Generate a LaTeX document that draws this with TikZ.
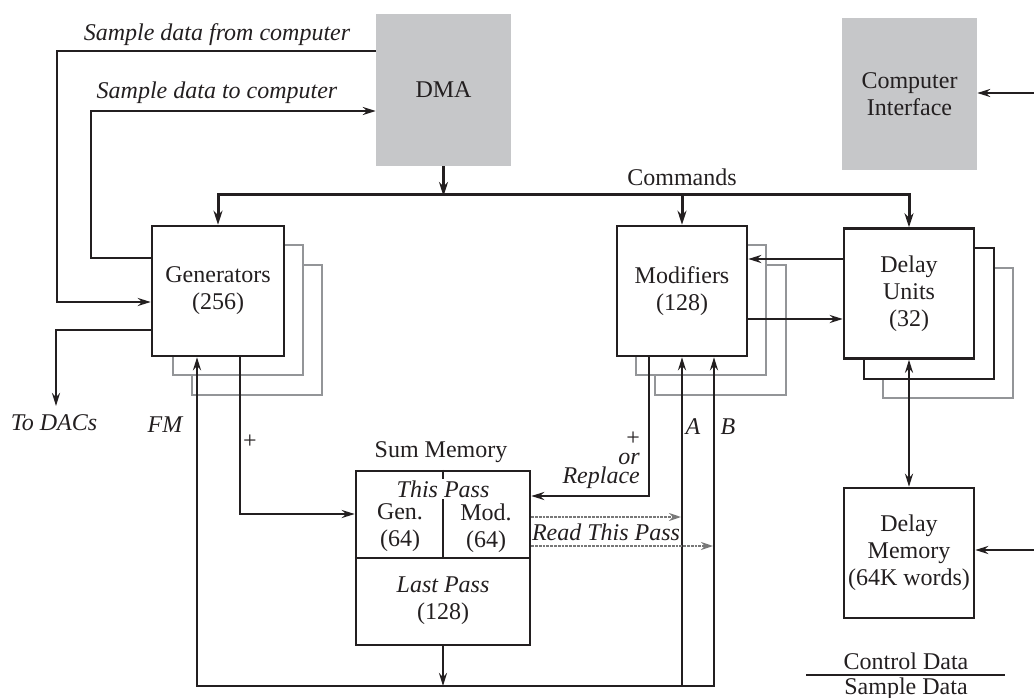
\documentclass[tikz,border=0pt]{standalone}
\usepackage{fontspec}
\setmainfont{Liberation Serif}
\usetikzlibrary{arrows.meta,calc}
\definecolor{ink}{RGB}{35,31,32}
\definecolor{blockgray}{RGB}{198,199,201}
\definecolor{shadowgray}{RGB}{147,149,152}
\definecolor{readgray}{RGB}{120,120,120}
\begin{document}
\begin{tikzpicture}[x=1pt,y=-1pt,
  every node/.style={font=\fontsize{24}{27}\selectfont, text=ink, inner sep=0pt},
  ln/.style={draw=ink, line width=2.5pt, line join=miter},
  arr/.style={ln, -{Stealth[length=13pt,width=8pt]}},
  darr/.style={ln, {Stealth[length=13pt,width=8pt]}-{Stealth[length=13pt,width=8pt]}},
  busarr/.style={draw=ink, line width=3pt, -{Stealth[length=14pt,width=9pt]}},
  readarr/.style={draw=readgray, line width=2.8pt, densely dotted, -{Stealth[length=12pt,width=8pt,fill=readgray]}},
  blk/.style={draw=ink, line width=2.5pt, fill=white, align=center, minimum width=130pt, minimum height=130pt},
  graybox/.style={fill=blockgray, align=center, minimum width=135pt, minimum height=152pt},
  shg/.style={draw=shadowgray, line width=2pt, fill=white},
  shk/.style={draw=ink, line width=2.5pt, fill=white},
  lbl/.style={font=\fontsize{24}{27}\selectfont\itshape}
]
\useasboundingbox (0,0) rectangle (1034,698);

% gray blocks
\node[graybox] (dma) at (443.5,90) {DMA};
\node[graybox] (ci) at (909.5,94) {Computer\\Interface};

% stacked shadows
\draw[shg] (192,265) rectangle (322,395);
\draw[shg] (173,245) rectangle (303,375);
\draw[shg] (655,265) rectangle (786,395);
\draw[shg] (636,245) rectangle (766,375);
\draw[shg] (883,268) rectangle (1013,398);
\draw[shk] (864,248) rectangle (994,379);

% main boxes
\node[blk, minimum width=132pt] (gen) at (218,291) {Generators\\(256)};
\node[blk] (mod) at (682,291) {Modifiers\\(128)};
\node[blk] (du) at (909,293.5) {Delay\\Units\\(32)};
\node[blk] (dm) at (909,553) {Delay\\Memory\\(64K words)};

% sum memory
\node[blk, minimum width=174pt, minimum height=174pt] (sum) at (443,558) {};
\draw[ln] (sum.west |- 0,558) -- (sum.east |- 0,558);
\draw[ln] (sum.north) -- (sum.center);
\node[fill=white, inner sep=2pt, font=\fontsize{24}{27}\selectfont\itshape] (thispass) at (443,489) {This Pass};
\node[align=center] (gen64) at (400,528) {Gen.\\(64)};
\node[align=center] (mod64) at (486,528) {Mod.\\(64)};
\node[align=center, font=\fontsize{24}{27}\selectfont] (lastpass) at (443,601) {\textit{Last Pass}\\(128)};
\node (sumlbl) at (441,452) {Sum Memory};

% labels
\node[lbl] (lfrom) at (217,35) {Sample data from computer};
\node[lbl] (lto) at (217,93) {Sample data to computer};
\node (lcmd) at (682,177) {Commands};
\node[lbl] (dacs) at (54,423) {To DACs};
\node[lbl] (lfm) at (165,425) {FM};
\node (lplus) at (250,442) {+};
\node[lbl] (la) at (693,427) {A};
\node[lbl] (lb) at (728,427) {B};
\node[anchor=north east, align=right, font=\fontsize{24}{19}\selectfont] (lrep) at (640,432) {+\\\textit{or}\\\textit{Replace}};
\node[lbl] (lread) at (606,532) {Read This Pass};

% DMA connections
\draw[arr] (dma.west |- 0,51) -| (57,302) -- (gen.west |- 0,302);
\draw[arr] (gen.west |- 0,258) -| (91,111) -- (dma.west |- 0,111);
\draw[busarr] (dma.south) -- (dma.south |- 0,196);
\draw[busarr] (dma.south |- 0,195) -| (gen.north);
\draw[busarr] (dma.south |- 0,195) -| (du.north);
\draw[busarr] (mod.north |- 0,195) -- (mod.north);

% generators
\draw[arr] (gen.west |- 0,330) -| (56,406);
\draw[arr] (gen.south -| 240,0) |- (sum.west |- 0,514);

% bottom bus
\draw[arr] (sum.south) -- (sum.south |- 0,686);
\draw[arr] (sum.south |- 0,686) -| (gen.south -| 197,0);
\draw[arr] (sum.south |- 0,686) -| (mod.south -| 682,0);
\draw[arr] (sum.south |- 0,686) -| (mod.south -| 714,0);

% modifiers
\draw[arr] (mod.south -| 649,0) |- (sum.east |- 0,496);
\draw[readarr] (sum.east |- 0,517) -- (681,517);
\draw[readarr] (sum.east |- 0,546) -- (713,546);
\draw[arr] (du.west |- 0,259) -- (mod.east |- 0,259);
\draw[arr] (mod.east |- 0,319) -- (du.west |- 0,319);

% delay
\draw[darr] (du.south) -- (dm.north);
\coordinate (ciin) at (1034,93);
\coordinate (dmin) at (1034,550);
\draw[arr] (ciin) -- (ci.east |- ciin);
\draw[arr] (dmin) -- (dm.east |- dmin);

% legend
\node (lctl) at (906,661) {Control Data};
\node (lsmp) at (906,689) {Sample Data};
\draw[ln] (806,675) -- (1005,675);
\end{tikzpicture}
\end{document}
